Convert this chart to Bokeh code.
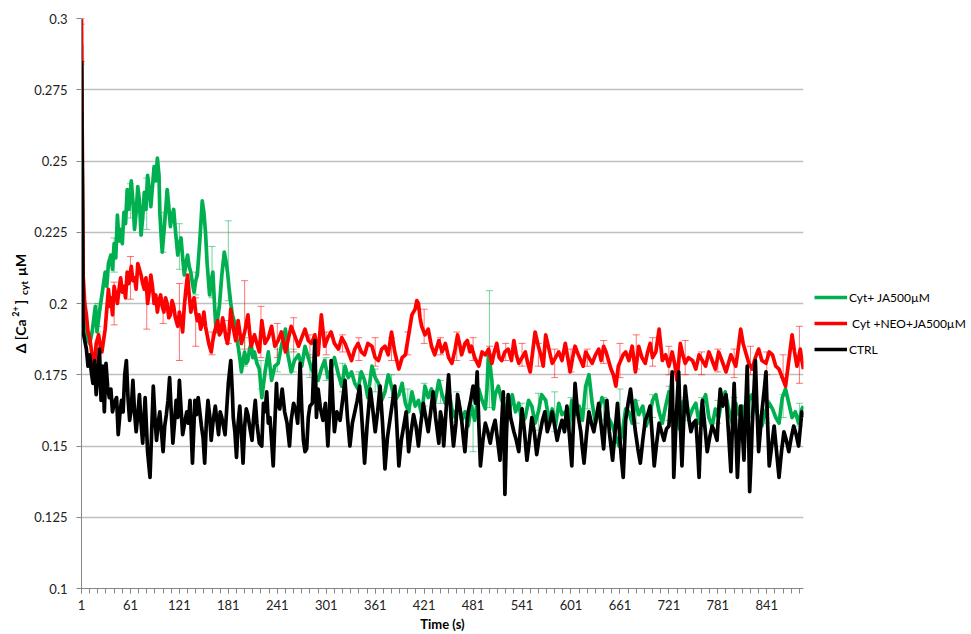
import math
from bokeh.plotting import figure
from bokeh.layouts import row
from bokeh.models import (ColumnDataSource, Range1d, FixedTicker, NumeralTickFormatter,
                          Whisker, TeeHead, Label, Legend, LegendItem)
from bokeh.embed import file_html
from bokeh.resources import INLINE

# ---------------- data ----------------
series_names = ["Cyt+ JA500µM", " Cyt +NEO+JA500µM", "CTRL"]

green_time = [1, 3, 5, 8, 11, 14, 18, 20, 23, 26, 30, 32, 34, 37, 39, 41, 43, 45, 47, 49, 51, 53, 55, 57, 59,
              62, 64, 66, 68, 70, 72, 74, 76, 78, 80, 82, 84, 86, 88, 90, 92, 94, 96, 97, 99, 100, 102, 104,
              106, 108, 110, 112, 114, 116, 119, 121, 123, 125, 127, 129, 131, 133, 135, 137, 139, 141, 143,
              146, 149, 151, 153, 155, 158, 160, 162, 164, 166, 168, 170, 173, 176, 178, 180, 182, 184, 186,
              188, 190, 193, 195, 197, 199, 201, 203, 205, 207, 209, 211, 213, 216, 219, 222, 226, 230, 234,
              238, 242, 246, 251, 254, 258, 262, 267, 271, 275, 279, 283, 287, 291, 295, 299, 303, 307, 311,
              316, 320, 324, 328, 332, 336, 340, 344, 348, 352, 357, 361, 365, 369, 373, 377, 381, 385, 390,
              394, 398, 402, 406, 410, 414, 418, 422, 426, 430, 434, 439, 443, 447, 451, 455, 459, 463, 467,
              471, 475, 479, 483, 488, 492, 496, 498, 500, 502, 504, 506, 508, 512, 516, 520, 524, 529, 533,
              537, 541, 545, 549, 553, 557, 561, 565, 570, 574, 578, 582, 586, 590, 594, 598, 602, 606, 611,
              615, 619, 623, 627, 631, 635, 639, 643, 647, 652, 656, 660, 664, 668, 672, 676, 680, 684, 689,
              693, 697, 701, 705, 709, 713, 717, 721, 725, 730, 734, 737, 742, 746, 750, 754, 758, 762, 766,
              770, 774, 778, 782, 786, 790, 795, 799, 803, 807, 811, 815, 819, 823, 827, 831, 835, 839, 844,
              848, 852, 856, 860, 864, 868, 872, 876, 880, 884, 886]
green_value = [0.291, 0.205, 0.194, 0.188, 0.186, 0.19, 0.199, 0.19, 0.197, 0.203, 0.211, 0.206, 0.214, 0.217,
               0.212, 0.221, 0.216, 0.231, 0.222, 0.226, 0.221, 0.232, 0.228, 0.24, 0.233, 0.243, 0.236, 0.226,
               0.232, 0.241, 0.236, 0.224, 0.23, 0.239, 0.233, 0.245, 0.24, 0.234, 0.241, 0.248, 0.243, 0.251,
               0.245, 0.232, 0.222, 0.218, 0.225, 0.232, 0.24, 0.234, 0.227, 0.231, 0.233, 0.226, 0.217, 0.221,
               0.223, 0.216, 0.21, 0.214, 0.217, 0.213, 0.211, 0.207, 0.204, 0.208, 0.21, 0.222, 0.236, 0.232,
               0.225, 0.214, 0.203, 0.208, 0.211, 0.2, 0.19, 0.195, 0.199, 0.21, 0.218, 0.215, 0.211, 0.205,
               0.2, 0.196, 0.194, 0.19, 0.185, 0.181, 0.176, 0.18, 0.183, 0.179, 0.18, 0.184, 0.186, 0.181,
               0.183, 0.179, 0.177, 0.167, 0.176, 0.183, 0.173, 0.178, 0.179, 0.185, 0.191, 0.182, 0.176, 0.18,
               0.182, 0.178, 0.185, 0.181, 0.177, 0.175, 0.173, 0.177, 0.18, 0.174, 0.177, 0.181, 0.175, 0.171,
               0.178, 0.174, 0.176, 0.172, 0.17, 0.176, 0.173, 0.167, 0.178, 0.174, 0.172, 0.166, 0.169, 0.175,
               0.171, 0.166, 0.168, 0.172, 0.165, 0.162, 0.169, 0.164, 0.166, 0.161, 0.171, 0.167, 0.17, 0.165,
               0.173, 0.168, 0.165, 0.17, 0.163, 0.16, 0.166, 0.159, 0.162, 0.157, 0.164, 0.159, 0.17, 0.166,
               0.163, 0.17, 0.183, 0.178, 0.173, 0.163, 0.168, 0.171, 0.166, 0.164, 0.16, 0.168, 0.162, 0.165,
               0.158, 0.16, 0.166, 0.164, 0.158, 0.162, 0.168, 0.166, 0.159, 0.163, 0.157, 0.165, 0.161, 0.162,
               0.156, 0.166, 0.161, 0.164, 0.159, 0.171, 0.175, 0.165, 0.158, 0.162, 0.167, 0.165, 0.16, 0.157,
               0.153, 0.15, 0.155, 0.163, 0.162, 0.158, 0.166, 0.161, 0.164, 0.157, 0.16, 0.166, 0.168, 0.162,
               0.158, 0.164, 0.169, 0.161, 0.162, 0.156, 0.165, 0.167, 0.16, 0.163, 0.165, 0.158, 0.165, 0.168,
               0.16, 0.157, 0.163, 0.16, 0.166, 0.169, 0.162, 0.158, 0.165, 0.161, 0.164, 0.159, 0.166, 0.168,
               0.163, 0.16, 0.157, 0.162, 0.165, 0.163, 0.16, 0.158, 0.167, 0.17, 0.165, 0.16, 0.162, 0.158,
               0.163, 0.164]

red_time = [1, 3, 5, 7, 9, 11, 13, 15, 17, 19, 22, 24, 26, 28, 30, 32, 34, 36, 37, 39, 41, 43, 45, 47, 49, 51,
            53, 55, 57, 59, 62, 64, 66, 68, 70, 72, 74, 76, 78, 80, 82, 84, 86, 88, 90, 92, 94, 96, 98, 100, 102,
            104, 106, 108, 110, 112, 114, 116, 119, 121, 123, 125, 127, 129, 131, 133, 135, 137, 139, 141, 143,
            145, 147, 149, 151, 153, 155, 157, 160, 162, 164, 166, 168, 170, 172, 174, 176, 178, 180, 182, 184,
            186, 188, 190, 193, 195, 197, 199, 201, 203, 205, 207, 209, 211, 213, 216, 219, 222, 224, 226, 230,
            234, 238, 242, 246, 251, 254, 258, 262, 267, 271, 275, 279, 283, 287, 291, 295, 299, 303, 307, 311,
            316, 320, 324, 328, 332, 336, 340, 344, 348, 352, 357, 361, 365, 369, 373, 377, 381, 385, 390, 394,
            398, 402, 406, 410, 412, 414, 416, 418, 422, 426, 430, 434, 439, 443, 447, 451, 455, 459, 462, 465,
            467, 471, 474, 477, 479, 483, 488, 492, 496, 500, 504, 507, 510, 513, 516, 520, 524, 528, 531, 534,
            537, 541, 545, 548, 551, 554, 557, 561, 564, 567, 570, 574, 578, 582, 586, 590, 594, 597, 600, 603,
            606, 610, 613, 616, 619, 623, 627, 631, 635, 638, 641, 644, 647, 650, 653, 656, 659, 662, 665, 668,
            672, 676, 680, 684, 688, 692, 695, 698, 701, 705, 709, 713, 717, 721, 725, 728, 731, 735, 738, 741,
            745, 750, 754, 758, 762, 766, 770, 774, 778, 782, 786, 791, 794, 797, 800, 803, 806, 809, 812, 815,
            819, 823, 827, 831, 835, 840, 844, 848, 852, 856, 860, 864, 868, 872, 875, 878, 882, 884, 886]
red_value = [0.3, 0.21, 0.2, 0.196, 0.19, 0.188, 0.184, 0.18, 0.178, 0.186, 0.189, 0.185, 0.183, 0.187, 0.191,
             0.198, 0.205, 0.199, 0.202, 0.196, 0.206, 0.203, 0.2, 0.205, 0.209, 0.204, 0.206, 0.202, 0.211,
             0.207, 0.213, 0.208, 0.209, 0.205, 0.214, 0.212, 0.21, 0.207, 0.205, 0.209, 0.2, 0.204, 0.21, 0.206,
             0.2, 0.203, 0.197, 0.201, 0.203, 0.199, 0.197, 0.202, 0.2, 0.195, 0.196, 0.201, 0.199, 0.195, 0.192,
             0.197, 0.194, 0.19, 0.199, 0.205, 0.21, 0.203, 0.197, 0.2, 0.202, 0.197, 0.194, 0.196, 0.191, 0.193,
             0.197, 0.192, 0.189, 0.186, 0.183, 0.187, 0.19, 0.192, 0.194, 0.189, 0.19, 0.195, 0.192, 0.188,
             0.186, 0.19, 0.198, 0.193, 0.19, 0.187, 0.194, 0.19, 0.186, 0.188, 0.19, 0.193, 0.196, 0.19, 0.185,
             0.187, 0.189, 0.186, 0.183, 0.194, 0.19, 0.186, 0.188, 0.192, 0.185, 0.187, 0.19, 0.183, 0.187,
             0.192, 0.189, 0.185, 0.188, 0.191, 0.187, 0.186, 0.189, 0.182, 0.196, 0.185, 0.188, 0.19, 0.186,
             0.184, 0.188, 0.186, 0.183, 0.18, 0.184, 0.186, 0.183, 0.182, 0.186, 0.185, 0.181, 0.18, 0.184,
             0.185, 0.182, 0.19, 0.183, 0.177, 0.181, 0.182, 0.189, 0.196, 0.198, 0.201, 0.2, 0.195, 0.192,
             0.189, 0.191, 0.185, 0.182, 0.187, 0.183, 0.186, 0.181, 0.179, 0.184, 0.189, 0.185, 0.182, 0.186,
             0.187, 0.183, 0.185, 0.181, 0.178, 0.183, 0.182, 0.184, 0.179, 0.183, 0.186, 0.181, 0.18, 0.183,
             0.184, 0.18, 0.187, 0.182, 0.179, 0.181, 0.183, 0.179, 0.176, 0.183, 0.19, 0.185, 0.182, 0.178,
             0.189, 0.184, 0.179, 0.181, 0.183, 0.18, 0.186, 0.181, 0.176, 0.181, 0.185, 0.182, 0.18, 0.178,
             0.183, 0.181, 0.179, 0.182, 0.184, 0.18, 0.185, 0.183, 0.18, 0.177, 0.175, 0.171, 0.178, 0.18,
             0.182, 0.183, 0.18, 0.185, 0.176, 0.185, 0.181, 0.179, 0.183, 0.186, 0.181, 0.183, 0.191, 0.18,
             0.182, 0.178, 0.183, 0.179, 0.173, 0.186, 0.182, 0.179, 0.181, 0.18, 0.177, 0.182, 0.18, 0.178,
             0.183, 0.18, 0.177, 0.183, 0.18, 0.176, 0.179, 0.182, 0.18, 0.178, 0.184, 0.191, 0.186, 0.183,
             0.179, 0.177, 0.181, 0.184, 0.18, 0.179, 0.183, 0.182, 0.178, 0.177, 0.174, 0.171, 0.18, 0.189,
             0.183, 0.178, 0.184, 0.18, 0.177]

black_time = [1, 2, 3, 5, 7, 9, 11, 13, 15, 17, 19, 21, 23, 25, 27, 29, 31, 33, 35, 37, 39, 41, 44, 46, 48, 50,
              52, 54, 56, 58, 60, 62, 64, 66, 68, 70, 72, 74, 76, 79, 82, 85, 87, 89, 91, 93, 95, 97, 99, 101,
              103, 105, 107, 109, 111, 113, 115, 117, 119, 121, 123, 125, 128, 130, 132, 134, 137, 140, 142, 144,
              146, 148, 150, 152, 154, 156, 158, 160, 162, 165, 167, 169, 171, 173, 175, 177, 179, 181, 184, 186,
              187, 189, 191, 193, 195, 197, 199, 201, 203, 205, 207, 210, 212, 214, 216, 219, 222, 224, 226, 228,
              230, 232, 234, 236, 238, 240, 241, 244, 247, 250, 253, 256, 258, 261, 264, 266, 269, 271, 273, 275,
              277, 279, 281, 284, 287, 289, 291, 294, 297, 300, 303, 305, 307, 309, 311, 314, 318, 321, 324, 327,
              330, 333, 336, 339, 342, 345, 348, 351, 355, 358, 361, 364, 367, 370, 373, 376, 379, 382, 385, 387,
              390, 393, 396, 399, 402, 405, 408, 411, 414, 417, 420, 423, 426, 429, 432, 435, 439, 441, 443, 445,
              448, 451, 454, 457, 460, 462, 465, 467, 469, 471, 473, 475, 478, 481, 484, 486, 488, 490, 493, 496,
              499, 502, 505, 508, 511, 514, 516, 518, 520, 522, 524, 527, 531, 534, 537, 539, 541, 544, 547, 550,
              553, 556, 559, 562, 566, 569, 572, 575, 578, 581, 584, 587, 590, 593, 596, 599, 602, 604, 606, 609,
              613, 615, 617, 620, 623, 626, 629, 632, 635, 638, 641, 643, 645, 648, 652, 655, 658, 661, 663, 665,
              668, 671, 674, 677, 680, 683, 686, 689, 692, 695, 698, 701, 703, 706, 709, 712, 715, 718, 721, 723,
              725, 727, 730, 733, 735, 737, 739, 741, 744, 748, 751, 754, 756, 758, 760, 762, 765, 768, 771, 774,
              777, 780, 782, 784, 787, 791, 794, 797, 799, 801, 803, 805, 807, 809, 811, 813, 815, 817, 819, 820,
              822, 823, 825, 827, 829, 831, 833, 835, 838, 840, 842, 844, 847, 850, 853, 856, 859, 862, 865, 868,
              871, 874, 877, 880, 882, 884, 886]
black_value = [0.285, 0.24, 0.19, 0.187, 0.184, 0.178, 0.182, 0.176, 0.172, 0.18, 0.168, 0.175, 0.184, 0.166,
               0.178, 0.162, 0.179, 0.171, 0.167, 0.17, 0.162, 0.165, 0.167, 0.154, 0.161, 0.166, 0.162, 0.175,
               0.18, 0.167, 0.159, 0.163, 0.173, 0.162, 0.155, 0.161, 0.168, 0.158, 0.151, 0.167, 0.148, 0.139,
               0.155, 0.171, 0.16, 0.152, 0.158, 0.162, 0.155, 0.148, 0.157, 0.161, 0.166, 0.174, 0.162, 0.151,
               0.158, 0.166, 0.16, 0.173, 0.163, 0.154, 0.159, 0.162, 0.158, 0.166, 0.144, 0.166, 0.161, 0.167,
               0.162, 0.157, 0.153, 0.144, 0.158, 0.166, 0.161, 0.152, 0.158, 0.164, 0.159, 0.154, 0.162, 0.16,
               0.157, 0.154, 0.163, 0.172, 0.18, 0.168, 0.16, 0.155, 0.146, 0.158, 0.164, 0.155, 0.144, 0.157,
               0.163, 0.161, 0.157, 0.152, 0.16, 0.166, 0.158, 0.151, 0.15, 0.165, 0.162, 0.169, 0.158, 0.16,
               0.152, 0.143, 0.158, 0.172, 0.165, 0.163, 0.17, 0.162, 0.158, 0.15, 0.159, 0.165, 0.162, 0.158,
               0.179, 0.163, 0.152, 0.148, 0.149, 0.16, 0.164, 0.165, 0.187, 0.16, 0.17, 0.163, 0.159, 0.165,
               0.15, 0.162, 0.18, 0.166, 0.155, 0.162, 0.159, 0.166, 0.173, 0.16, 0.15, 0.158, 0.162, 0.166,
               0.171, 0.158, 0.144, 0.157, 0.17, 0.163, 0.155, 0.162, 0.171, 0.158, 0.142, 0.153, 0.159, 0.165,
               0.171, 0.16, 0.143, 0.152, 0.157, 0.162, 0.148, 0.155, 0.161, 0.157, 0.15, 0.158, 0.165, 0.16,
               0.155, 0.162, 0.169, 0.16, 0.151, 0.162, 0.159, 0.15, 0.163, 0.175, 0.16, 0.15, 0.158, 0.168,
               0.163, 0.159, 0.153, 0.148, 0.156, 0.162, 0.166, 0.171, 0.165, 0.176, 0.158, 0.143, 0.152, 0.158,
               0.155, 0.151, 0.156, 0.159, 0.152, 0.145, 0.158, 0.169, 0.133, 0.155, 0.168, 0.16, 0.155, 0.152,
               0.148, 0.156, 0.163, 0.155, 0.145, 0.152, 0.16, 0.155, 0.147, 0.153, 0.159, 0.162, 0.155, 0.158,
               0.162, 0.157, 0.152, 0.156, 0.159, 0.155, 0.164, 0.154, 0.143, 0.158, 0.172, 0.162, 0.155, 0.149,
               0.144, 0.154, 0.162, 0.158, 0.155, 0.16, 0.165, 0.157, 0.149, 0.158, 0.166, 0.155, 0.145, 0.155,
               0.165, 0.152, 0.145, 0.139, 0.159, 0.165, 0.17, 0.162, 0.155, 0.149, 0.144, 0.152, 0.159, 0.161,
               0.164, 0.152, 0.143, 0.151, 0.158, 0.155, 0.152, 0.156, 0.157, 0.165, 0.176, 0.139, 0.16, 0.176,
               0.158, 0.143, 0.158, 0.171, 0.162, 0.155, 0.158, 0.159, 0.15, 0.139, 0.155, 0.166, 0.157, 0.148,
               0.153, 0.157, 0.155, 0.152, 0.162, 0.17, 0.164, 0.168, 0.155, 0.141, 0.158, 0.172, 0.156, 0.139,
               0.152, 0.164, 0.155, 0.145, 0.162, 0.178, 0.15, 0.134, 0.147, 0.156, 0.168, 0.18, 0.163, 0.148,
               0.155, 0.162, 0.17, 0.176, 0.158, 0.143, 0.15, 0.157, 0.148, 0.139, 0.148, 0.155, 0.152, 0.148,
               0.153, 0.157, 0.154, 0.15, 0.156, 0.162, 0.16]

# error bars (every 20 s): centre and half-width
err_time = [1, 21, 41, 61, 81, 101, 121, 141, 161, 181, 201, 221, 241, 261, 281, 301, 321, 341, 361, 381, 401,
            421, 441, 461, 481, 501, 521, 541, 561, 581, 601, 621, 641, 661, 681, 701, 721, 741, 761, 781, 801,
            821, 841, 861, 881]
red_err_mid = [0.2925, 0.188, 0.2, 0.209, 0.198, 0.197, 0.1935, 0.1935, 0.186, 0.19, 0.196, 0.19, 0.187, 0.189,
               0.185, 0.186, 0.186, 0.184, 0.183, 0.184, 0.186, 0.192, 0.185, 0.185, 0.184, 0.182, 0.183, 0.182,
               0.182, 0.179, 0.18, 0.181, 0.183, 0.18, 0.183, 0.183, 0.18, 0.181, 0.179, 0.18, 0.179, 0.18,
               0.179, 0.178, 0.182]
red_err_half = [0.0075, 0.004, 0.0075, 0.0075, 0.007, 0.004, 0.0135, 0.0085, 0.004, 0.004, 0.012, 0.009, 0.006,
                0.006, 0.004, 0.004, 0.003, 0.004, 0.005, 0.004, 0.004, 0.006, 0.003, 0.005, 0.004, 0.003,
                0.003, 0.004, 0.004, 0.005, 0.004, 0.003, 0.004, 0.006, 0.006, 0.005, 0.005, 0.006, 0.004,
                0.004, 0.005, 0.005, 0.004, 0.004, 0.01]
green_err_mid = [0.291, 0.195, 0.217, 0.236, 0.235, 0.225, 0.22, 0.207, 0.211, 0.215, 0.183, 0.175, 0.18, 0.18,
                 0.178, 0.177, 0.174, 0.172, 0.173, 0.171, 0.166, 0.168, 0.169, 0.165, 0.159, 0.184, 0.163,
                 0.161, 0.162, 0.162, 0.163, 0.167, 0.163, 0.163, 0.162, 0.164, 0.165, 0.163, 0.163, 0.162,
                 0.163, 0.164, 0.162, 0.164, 0.161]
green_err_half = [0.007, 0.005, 0.006, 0.006, 0.009, 0.007, 0.008, 0.004, 0.009, 0.014, 0.005, 0.005, 0.004,
                  0.004, 0.004, 0.004, 0.005, 0.004, 0.004, 0.004, 0.004, 0.004, 0.004, 0.004, 0.011, 0.0205,
                  0.004, 0.004, 0.0065, 0.007, 0.004, 0.004, 0.004, 0.007, 0.004, 0.004, 0.006, 0.004, 0.004,
                  0.004, 0.004, 0.004, 0.004, 0.004, 0.004]

y_ticks = [0.1, 0.125, 0.15, 0.175, 0.2, 0.225, 0.25, 0.275, 0.3]
x_tick_labels_at = [1, 61, 121, 181, 241, 301, 361, 421, 481, 541, 601, 661, 721, 781, 841]
x_minor_at = list(range(1, 882, 10))

# ---------------- styling ----------------
FONT = "Lato"
GREEN = "#00B050"
RED = "#FF0000"
BLACK = "#000000"
AXIS_GREY = "#868686"
H = 634

# ---------- main plot ----------
p = figure(width=781, height=H, output_backend="svg", toolbar_location=None,
           x_range=Range1d(1, 886), y_range=Range1d(0.1, 0.3),
           min_border_left=51, min_border_right=8, min_border_top=18, min_border_bottom=46)
p.outline_line_color = None

p.xaxis.ticker = FixedTicker(ticks=x_tick_labels_at, minor_ticks=x_minor_at)
p.yaxis.ticker = FixedTicker(ticks=y_ticks, minor_ticks=[])
p.yaxis.formatter = NumeralTickFormatter(format="0.[000]")
for ax in (p.xaxis[0], p.yaxis[0]):
    ax.axis_line_color = AXIS_GREY
    ax.axis_line_width = 1
    ax.major_tick_line_color = AXIS_GREY
    ax.minor_tick_line_color = AXIS_GREY
    ax.major_tick_in = 0
    ax.major_tick_out = 5
    ax.minor_tick_in = 0
    ax.minor_tick_out = 5
    ax.major_label_text_font = FONT
    ax.major_label_text_font_size = "13px"
    ax.major_label_text_color = "#222222"
p.yaxis.major_label_standoff = 9
p.xaxis.major_label_standoff = 6
p.xaxis.axis_label = "Time (s)"
p.xaxis.axis_label_text_font = FONT
p.xaxis.axis_label_text_font_style = "bold"
p.xaxis.axis_label_text_font_size = "13px"
p.xaxis.axis_label_text_color = "#000000"
p.xaxis.axis_label_standoff = 3
p.xgrid.visible = False
p.ygrid.ticker = FixedTicker(ticks=y_ticks)
p.ygrid.grid_line_color = "#BFBFBF"
p.ygrid.grid_line_width = 1.5


def add_err(mid, half, color):
    src = ColumnDataSource(dict(t=err_time,
                                lo=[m - h for m, h in zip(mid, half)],
                                hi=[m + h for m, h in zip(mid, half)]))
    w = Whisker(source=src, base="t", lower="lo", upper="hi",
                line_color=color, line_alpha=0.55, line_width=1,
                upper_head=TeeHead(size=7, line_color=color, line_alpha=0.55, line_width=1),
                lower_head=TeeHead(size=7, line_color=color, line_alpha=0.55, line_width=1))
    p.add_layout(w)


add_err(green_err_mid, green_err_half, GREEN)
add_err(red_err_mid, red_err_half, RED)

p.line(green_time, green_value, line_color=GREEN, line_width=3.7, line_join="round")
p.line(red_time, red_value, line_color=RED, line_width=3.7, line_join="round")
p.line(black_time, black_value, line_color=BLACK, line_width=3.7, line_join="round")

# ---------- y-axis title (separate strip so it is not clipped) ----------
ylab_fig = figure(width=30, height=H, output_backend="svg", toolbar_location=None,
                  x_range=Range1d(0, 30), y_range=Range1d(0.1, 0.3),
                  x_axis_location=None, y_axis_location=None,
                  min_border=0, min_border_left=0, min_border_right=0,
                  min_border_top=0, min_border_bottom=0)
ylab_fig.grid.visible = False
ylab_fig.outline_line_color = None


def ylab(text, y, x, size):
    ylab_fig.add_layout(Label(x=x, y=y, text=text, angle=math.pi / 2, text_font=FONT,
                              text_font_style="bold", text_font_size=size, text_color="#000000",
                              text_align="center", text_baseline="middle"))


ylab("Δ [Ca", 0.18842, 19.5, "14px")
ylab("2+", 0.19719, 14.5, "9px")
ylab("]", 0.20053, 19.5, "14px")
ylab("cyt", 0.20544, 23.6, "10px")
ylab("µM", 0.21351, 19.5, "14px")

# ---------- legend strip ----------
leg_fig = figure(width=159, height=H, output_backend="svg", toolbar_location=None,
                 x_range=Range1d(-2000, -1000), y_range=Range1d(0, 1),
                 x_axis_location=None, y_axis_location=None,
                 min_border=0, min_border_left=0, min_border_right=0,
                 min_border_top=0, min_border_bottom=0)
leg_fig.grid.visible = False
leg_fig.outline_line_color = None
# legend keys: the same series (outside this strip's visible range, so only the keys show)
lg = leg_fig.line(green_time, green_value, line_color=GREEN, line_width=3.7)
lr = leg_fig.line(red_time, red_value, line_color=RED, line_width=3.7)
lk = leg_fig.line(black_time, black_value, line_color=BLACK, line_width=3.7)
legend = Legend(items=[LegendItem(label=series_names[0], renderers=[lg]),
                       LegendItem(label=series_names[1], renderers=[lr]),
                       LegendItem(label=series_names[2], renderers=[lk])],
                location=(3, 229), orientation="vertical",
                border_line_color=None, background_fill_alpha=0,
                padding=0, margin=0, spacing=6,
                glyph_width=33, glyph_height=20, label_height=20, label_standoff=2,
                label_text_font=FONT, label_text_font_size="12px", label_text_color="#000000")
leg_fig.add_layout(legend)

layout = row(ylab_fig, p, leg_fig, spacing=0)
open("out.html", "w").write(file_html(layout, INLINE))
